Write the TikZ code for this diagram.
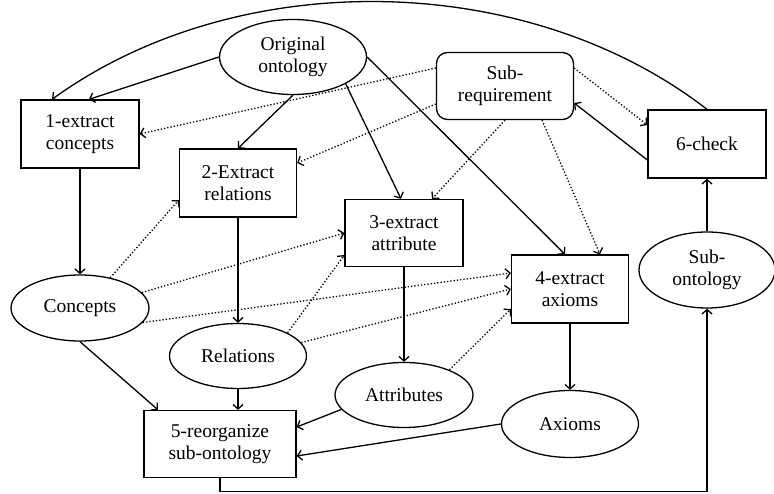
\documentclass[tikz,border=0pt]{standalone}
\usepackage{fontspec}
\setmainfont{Liberation Serif}
\usetikzlibrary{arrows.meta,shapes.geometric}

\begin{document}
\begin{tikzpicture}[x=1pt, y=-1pt, line width=1.3pt,
  >={Straight Barb[length=4.5pt,width=10pt]},
  every node/.style={font=\fontsize{19.5}{22}\selectfont, align=center},
  task/.style={draw, rectangle, minimum width=118pt, minimum height=68pt, inner sep=2pt},
  data/.style={draw, ellipse, minimum width=138pt, minimum height=66pt, inner sep=1pt},
  req/.style={draw, rectangle, rounded corners=11pt, minimum width=137pt, minimum height=67pt}]
  \useasboundingbox (0,0) rectangle (774,494);

  \node [data, minimum width=147pt, minimum height=75pt] (orig) at (293,57) {Original\\ontology};
  \node [req]  (subreq) at (505,86)  {Sub-\\requirement};
  \node [task] (ext1)   at (80,134)  {1-extract\\concepts};
  \node [task, minimum width=117pt] (ext2) at (238,183) {2-Extract\\relations};
  \node [task, minimum height=67pt] (ext3) at (404,233) {3-extract\\attribute};
  \node [task, minimum width=117pt] (ext4) at (570,289) {4-extract\\axioms};
  \node [task, minimum width=152pt, minimum height=67pt] (reorg) at (220,444) {5-reorganize\\sub-ontology};
  \node [task] (check)  at (707,144) {6-check};

  \node [data] (concepts)  at (80,308)  {Concepts};
  \node [data, minimum width=137pt, minimum height=65pt] (relations)  at (238,356) {Relations};
  \node [data, minimum height=65pt] (attributes) at (404,395) {Attributes};
  \node [data, minimum width=137pt, minimum height=67pt] (axioms) at (570,424) {Axioms};
  \node [data, minimum width=136pt, minimum height=76pt] (subont) at (707,270) {Sub-\\ontology};

  % original ontology
  \draw [->] (orig.west) -- ([xshift=9pt]ext1.north);
  \draw [->] (orig.south) -- (ext2.north);
  \draw [->] (orig.-27) -- ([xshift=-3pt]ext3.north);
  \draw [->] (orig.east) -- ([xshift=-5pt]ext4.north);

  % sub-requirement
  \draw [->, dotted] ([yshift=18pt]subreq.west) -- (ext1.east);
  \draw [->, dotted] ([yshift=-18pt]subreq.west) -- ([yshift=20pt]ext2.east);
  \draw [->, dotted] (subreq.south) -- ([xshift=28pt]ext3.north);
  \draw [->, dotted] ([xshift=37pt]subreq.south) -- ([xshift=30pt]ext4.north);
  \draw [->, dotted] ([yshift=18pt]subreq.east) -- ([yshift=19pt]check.west);
  \draw [->] ([yshift=-16pt]check.west) -- ([yshift=-17pt]subreq.east);

  % extraction steps
  \draw [->] (ext1) -- (concepts);
  \draw [->] (ext2) -- (relations);
  \draw [->] (ext3) -- (attributes);
  \draw [->] (ext4) -- (axioms);

  \draw [->, dotted] (concepts.45) -- ([yshift=-17pt]ext2.west);
  \draw [->, dotted] (concepts.14) -- (ext3.west);
  \draw [->, dotted] (concepts.-13) -- ([yshift=16pt]ext4.west);
  \draw [->, dotted] (relations.25) -- ([yshift=-22pt]ext3.west);
  \draw [->, dotted] (relations.12) -- (ext4.west);
  \draw [->, dotted] (attributes.29) -- ([yshift=-20pt]ext4.west);

  % reorganize
  \draw [->] (concepts.south) -- ([xshift=-62pt]reorg.north);
  \draw [->] (relations.south) -- ([xshift=18pt]reorg.north);
  \draw [->] (attributes.-167) -- ([yshift=17pt]reorg.east);
  \draw [->] (axioms.west) -- ([yshift=-12pt]reorg.east);
  \draw [->] (reorg.south) -- ++(0,13) -| (subont.south);

  % check
  \draw [->] (subont) -- (check);
  \draw [->] (check.north) .. controls (527,-30) and (238,-35) .. ([xshift=-28pt]ext1.north);
\end{tikzpicture}
\end{document}
